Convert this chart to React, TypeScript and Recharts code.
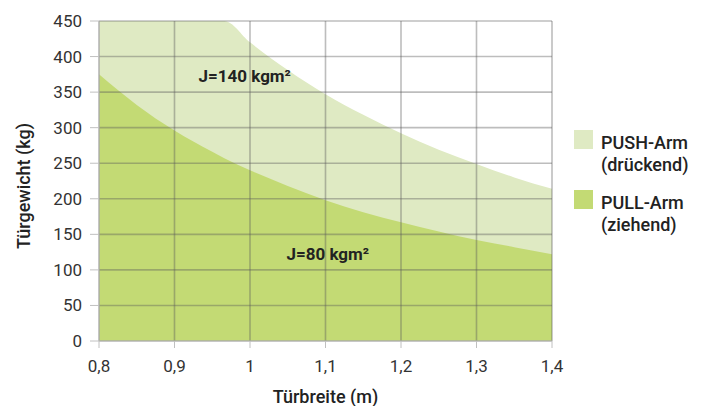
import { Area, AreaChart, Legend, ReferenceDot, ReferenceLine, XAxis, YAxis } from "recharts";

// door width (m) vs. max door weight (kg)
const widths = [0.8, 0.85, 0.9, 0.95, 0.966, 1.0, 1.05, 1.1, 1.15, 1.2, 1.25, 1.3, 1.35, 1.4];
const pushWeights = [450, 450, 450, 450, 450, 420, 381, 347, 318, 292, 269, 249, 230, 214];
const pullWeights = [375, 332, 296, 266, 257, 240, 218, 198, 181, 167, 154, 142, 132, 122];

const xTicks = [0.8, 0.9, 1.0, 1.1, 1.2, 1.3, 1.4];
const yTicks = [0, 50, 100, 150, 200, 250, 300, 350, 400, 450];

const legendNames = ["PUSH-Arm", "PULL-Arm"];
const legendSubs = ["(drückend)", "(ziehend)"];
const legendColors = ["#dfeac3", "#c3da74"];

const annotations = [
  { x: 0.993, y: 364, text: "J=140 kgm²" },
  { x: 1.103, y: 114, text: "J=80 kgm²" },
];

const data = widths.map((w, i) => ({ w, push: pushWeights[i], pull: pullWeights[i] }));

const FONT = "Roboto, 'DejaVu Sans', sans-serif";
const fmt = (v: number) => String(Math.round(v * 10) / 10).replace(".", ",");

function YTitle(props: any) {
  const vb = props.viewBox;
  const cx = 23;
  const cy = vb.y + vb.height / 2 + 5;
  return (
    <text x={cx} y={cy} transform={`rotate(-90 ${cx} ${cy})`} textAnchor="middle" dominantBaseline="central"
      fontFamily={FONT} fontSize={18} fontWeight={500} fill="#222">
      Türgewicht (kg)
    </text>
  );
}

function XTitle(props: any) {
  const vb = props.viewBox;
  return (
    <text x={vb.x + vb.width / 2} y={vb.y + 62} textAnchor="middle"
      fontFamily={FONT} fontSize={18} fontWeight={500} fill="#222">
      Türbreite (m)
    </text>
  );
}

function Note(text: string) {
  return (props: any) => {
    const vb = props.viewBox;
    return (
      <text x={vb.x + (vb.width || 0) / 2} y={vb.y + (vb.height || 0) / 2} textAnchor="middle"
        fontFamily={FONT} fontSize={17} fontWeight={700} fill="#222">
        {text}
      </text>
    );
  };
}

function LegendBox() {
  return (
    <div style={{ fontFamily: FONT, fontSize: 18, fontWeight: 500, color: "#222", lineHeight: "22px" }}>
      {legendNames.map((n, i) => (
        <div key={n} style={{ display: "flex", marginBottom: 14 }}>
          <div style={{ width: 19, height: 19, background: legendColors[i], flex: "none" }} />
          <div style={{ marginLeft: 8, marginTop: 2 }}>
            <div>{n}</div>
            <div>{legendSubs[i]}</div>
          </div>
        </div>
      ))}
    </div>
  );
}

export default function App() {
  const gridProps = { stroke: "#5a5a5a", strokeOpacity: 0.4, strokeWidth: 1.6 };
  return (
    <div style={{ position: "absolute", left: 0, top: 0, width: 703, height: 406, background: "#fff" }}>
      <AreaChart width={703} height={406} data={data} margin={{ top: 21, right: 151, bottom: 0, left: 0 }}>
        <XAxis
          dataKey="w"
          type="number"
          domain={[0.8, 1.4]}
          ticks={xTicks}
          tickFormatter={fmt}
          height={65}
          stroke="#c0c0c0"
          tickSize={7}
          tickMargin={12}
          tick={{ fill: "#333", fontSize: 17, fontFamily: FONT }}
          label={{ content: XTitle }}
        />
        <YAxis
          type="number"
          domain={[0, 450]}
          ticks={yTicks}
          width={99}
          stroke="#c0c0c0"
          tickSize={9}
          tickMargin={8}
          tick={{ fill: "#333", fontSize: 17, fontFamily: FONT }}
          label={{ content: YTitle }}
        />
        <Area type="monotone" dataKey="push" name="PUSH-Arm" stroke="none" fill={legendColors[0]} fillOpacity={1}
          isAnimationActive={false} dot={false} activeDot={false} />
        <Area type="monotone" dataKey="pull" name="PULL-Arm" stroke="none" fill={legendColors[1]} fillOpacity={1}
          isAnimationActive={false} dot={false} activeDot={false} />
        {xTicks.map((t) => (
          <ReferenceLine key={`x${t}`} x={t} {...gridProps} />
        ))}
        {yTicks.map((t) => (
          <ReferenceLine key={`y${t}`} y={t} {...gridProps} />
        ))}
        {annotations.map((a) => (
          <ReferenceDot key={a.text} x={a.x} y={a.y} r={0} fill="none" stroke="none" label={{ content: Note(a.text) }} />
        ))}
        <Legend layout="vertical" align="center" verticalAlign="middle" content={LegendBox}
          wrapperStyle={{ left: 574, top: 130, width: 125 }} />
      </AreaChart>
    </div>
  );
}
